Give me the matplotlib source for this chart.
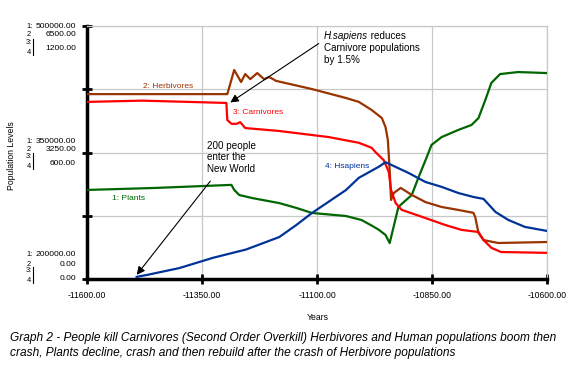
import matplotlib
matplotlib.use("Agg")
import matplotlib.pyplot as plt
from matplotlib.lines import Line2D
import numpy as np

plt.rcParams['font.family'] = ['Liberation Sans', 'DejaVu Sans']

# ---------------- data ----------------
plants_years = [-11600, -11450, -11286, -11280, -11269, -11241, -11182, -11145, -11111,
                -11037, -11003, -10980, -10966, -10951, -10942, -10923, -10894, -10879,
                -10864, -10851, -10829, -10793, -10764, -10749, -10734, -10721, -10702,
                -10663, -10600]
plants_vals = [305600, 308000, 311600, 305600, 299600, 296000, 290000, 284300, 278300,
               274700, 269900, 263000, 258500, 252200, 242600, 285500, 299600, 320900,
               341000, 359000, 368300, 376700, 382700, 390800, 412400, 432500, 443000,
               445400, 444200]

herb_years = [-11600, -11295, -11280, -11265, -11256, -11245, -11230, -11215, -11204,
              -11189, -11111, -11037, -11009, -10981, -10959, -10951, -10946, -10942,
              -10939, -10933, -10918, -10894, -10864, -10829, -10793, -10760, -10756,
              -10749, -10738, -10706, -10600]
herb_vals = [4750, 4750, 5370, 5060, 5265, 5135, 5290, 5135, 5190,
             5090, 4880, 4650, 4550, 4340, 4135, 3900, 3575, 2800,
             2030, 2210, 2340, 2160, 1975, 1850, 1775, 1700, 1590,
             1185, 1000, 925, 950]

carn_years = [-11600, -11480, -11297, -11295, -11286, -11275, -11267, -11256, -11182,
              -11074, -11009, -10981, -10973, -10955, -10944, -10939, -10929, -10916,
              -10864, -10821, -10786, -10749, -10738, -10721, -10700, -10600]
carn_vals = [840, 846, 835, 754, 736, 736, 744, 716, 702,
             673, 646, 622, 602, 564, 508, 422, 360, 328,
             289, 256, 233, 223, 185, 148, 128, 124]

hs_years = [-11492, -11470, -11399, -11327, -11254, -11182, -11145, -11111, -11037,
            -11009, -10966, -10951, -10901, -10864, -10829, -10793, -10760, -10738,
            -10712, -10684, -10648, -10600]
hs_vals = [10, 19, 52, 100, 140, 199, 256, 313, 422,
           480, 532, 554, 503, 460, 437, 408, 389, 380,
           318, 280, 247, 228]

# scales (min, max) per series
plants_scale = (200000, 500000)
herb_scale = (0, 6500)
carn_scale = (0, 1200)
hs_scale = (0, 1200)

x_ticks = [-11600, -11350, -11100, -10850, -10600]
x_tick_labels = ["-11600.00", "-11350.00", "-11100.00", "-10850.00", "-10600.00"]

series_labels = ["1: Plants", "2: Herbivores", "3: Carnivores", "4: Hsapiens"]
colors = ["#006600", "#993300", "#ff0000", "#003399"]

# ---------------- figure ----------------
W, H = 566, 371
fig = plt.figure(figsize=(W / 100, H / 100), dpi=100)
fig.patch.set_facecolor("white")

def fx(x):
    return x / W

def fy(y):
    return 1 - y / H

L, R, T, B = 87, 547, 26, 279
ax = fig.add_axes([fx(L), fy(B), (R - L) / W, (B - T) / H])

def norm(vals, scale):
    lo, hi = scale
    return (np.asarray(vals, float) - lo) / (hi - lo)

ax.plot(plants_years, norm(plants_vals, plants_scale), color=colors[0], lw=1.6, zorder=3)
ax.plot(herb_years, norm(herb_vals, herb_scale), color=colors[1], lw=1.6, zorder=3)
ax.plot(carn_years, norm(carn_vals, carn_scale), color=colors[2], lw=1.6, zorder=3)
ax.plot(hs_years, norm(hs_vals, hs_scale), color=colors[3], lw=1.6, zorder=3)

ax.set_xlim(-11600, -10600)
ax.set_ylim(0, 1)
ax.set_xticks(x_ticks)
ax.set_xticklabels(x_tick_labels, fontsize=6.2)
ax.set_yticks([0, 0.25, 0.5, 0.75, 1.0])
ax.set_yticklabels([])
ax.grid(True, color="#c8c8c8", lw=0.9, zorder=0)
ax.tick_params(axis="both", direction="inout", length=7, width=2, color="black", pad=5)
for s in ["left", "bottom"]:
    ax.spines[s].set_linewidth(2.5)
    ax.spines[s].set_color("black")
for s in ["top", "right"]:
    ax.spines[s].set_linewidth(0.9)
    ax.spines[s].set_color("#c8c8c8")

# series labels
fig.text(fx(112), fy(199), series_labels[0], color=colors[0], fontsize=6, va="center")
fig.text(fx(143), fy(86), series_labels[1], color=colors[1], fontsize=6, va="center")
fig.text(fx(233), fy(112), series_labels[2], color=colors[2], fontsize=6, va="center")
fig.text(fx(325), fy(166), series_labels[3], color=colors[3], fontsize=6, va="center")

# y tick label stacks
def ystack(y1, y2, y3, y4, yv34, v1, v2, v34):
    fs = 6.1
    fi = 5.4
    fig.text(fx(26), fy(y1), "1:", fontsize=fi, va="center")
    fig.text(fx(76), fy(y1), v1, fontsize=fs, va="center", ha="right")
    fig.text(fx(26.5), fy(y2), "2", fontsize=fi, va="center")
    fig.text(fx(76), fy(y2), v2, fontsize=fs, va="center", ha="right")
    fig.text(fx(26), fy(y3), "3:", fontsize=fi, va="center")
    fig.text(fx(26.5), fy(y4), "4", fontsize=fi, va="center")
    fig.text(fx(76), fy(yv34), v34, fontsize=fs, va="center", ha="right")
    fig.add_artist(Line2D([fx(33), fx(33)], [fy(y3 - 4), fy(y4 + 3)], color="black", lw=0.8))

ystack(27, 35, 43, 52, 48, "500000.00", "6500.00", "1200.00")
ystack(141, 150, 157, 166, 164, "350000.00", "3250.00", "600.00")
ystack(255, 264, 271, 280, 278, "200000.00", "0.00", "0.00")

# axis titles
fig.text(fx(318), fy(317), "Years", fontsize=6.2, ha="center", va="center")
fig.text(fx(12), fy(156), "Population Levels", fontsize=6.2, ha="center", va="center", rotation=90)

# annotations
renderer = fig.canvas.get_renderer()
t_it = fig.text(fx(324), fy(36), "H.sapiens", fontsize=7.1, style="italic", va="center")
wpx = t_it.get_window_extent(renderer=renderer).width
fig.text(fx(324 + wpx), fy(36), " reduces", fontsize=7.1, va="center")
fig.text(fx(324), fy(48), "Carnivore populations", fontsize=7.1, va="center")
fig.text(fx(324), fy(60), "by 1.5%", fontsize=7.1, va="center")
ax.annotate("", xy=(fx(228), fy(104)), xycoords="figure fraction",
            xytext=(fx(321), fy(42)), textcoords="figure fraction",
            arrowprops=dict(arrowstyle="-|>", color="black", lw=0.8, mutation_scale=12))

fig.text(fx(207), fy(146), "200 people", fontsize=7.1, va="center")
fig.text(fx(207), fy(157.5), "enter the", fontsize=7.1, va="center")
fig.text(fx(207), fy(169), "New World", fontsize=7.1, va="center")
ax.annotate("", xy=(fx(135), fy(277)), xycoords="figure fraction",
            xytext=(fx(212), fy(179)), textcoords="figure fraction",
            arrowprops=dict(arrowstyle="-|>", color="black", lw=0.8, mutation_scale=12))

# caption
fig.text(fx(10), fy(338), "Graph 2 - People kill Carnivores (Second Order Overkill) Herbivores and Human populations boom then",
         fontsize=8.55, style="italic", va="center")
fig.text(fx(10), fy(353), "crash, Plants decline, crash and then rebuild after the crash of Herbivore populations",
         fontsize=8.55, style="italic", va="center")

fig.savefig("out.png", dpi=100, facecolor="white")
